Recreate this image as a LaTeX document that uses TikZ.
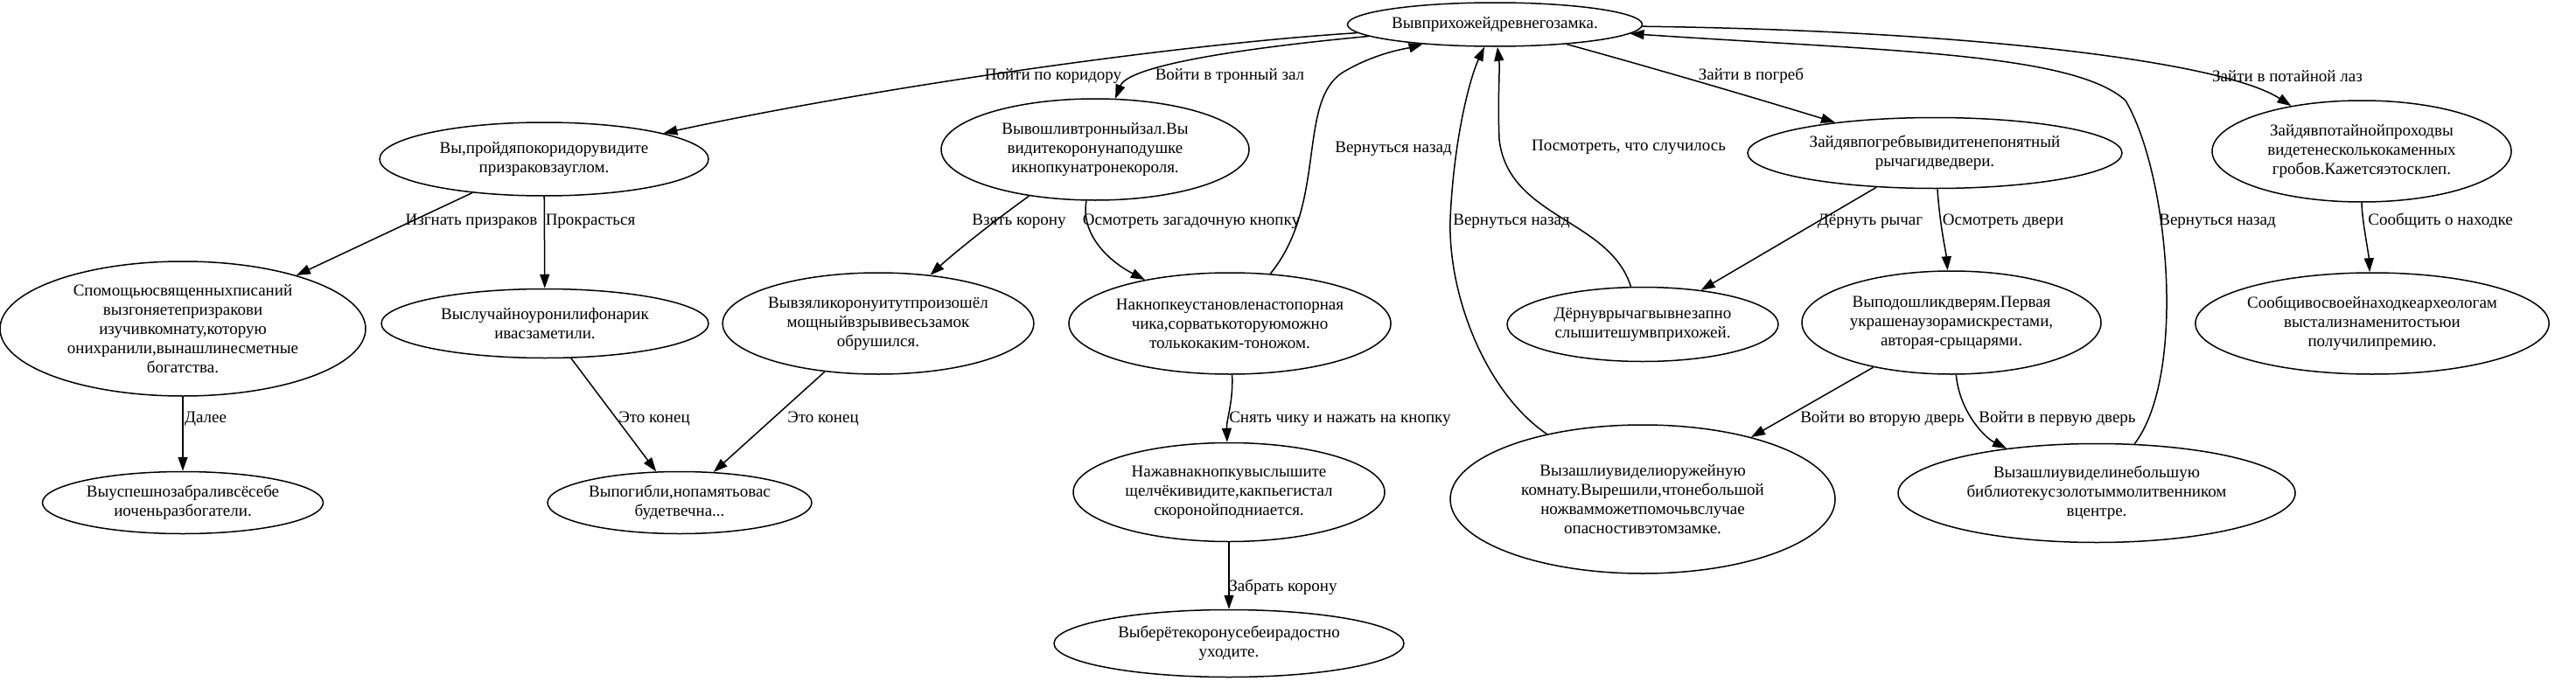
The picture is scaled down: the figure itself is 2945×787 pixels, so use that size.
\documentclass[tikz,border=0pt]{standalone}
\usepackage{fontspec}
\setmainfont{Liberation Serif}
\usetikzlibrary{shapes.geometric,arrows.meta}
\tikzset{
  st/.style={ellipse, draw, line width=1.5pt, inner sep=0pt, align=center, font=\fontsize{19}{22}\selectfont},
  lab/.style={inner sep=0pt, font=\fontsize{19}{20}\selectfont},
  arr/.style={line width=1.5pt, -{Triangle[length=16pt,width=11pt]}},
}
\begin{document}
\begin{tikzpicture}[x=1pt,y=-1pt]
\useasboundingbox (0,0) rectangle (2945,787);
% nodes
\node[st, minimum width=337pt, minimum height=50pt]  (n1)  at (1709,28)  {Вывприхожейдревнегозамка.};
\node[st, minimum width=376pt, minimum height=84pt]  (n2)  at (622,182)  {Вы,пройдяпокоридорувидите\\призраковзауглом.};
\node[st, minimum width=352pt, minimum height=116pt] (n3)  at (1252,171) {Вывошливтронныйзал.Вы\\видитекоронунаподушке\\икнопкунатронекороля.};
\node[st, minimum width=428pt, minimum height=81pt]  (n4)  at (2212,175) {Зайдявпогребвывидитенепонятный\\рычагидведвери.};
\node[st, minimum width=342pt, minimum height=116pt] (n5)  at (2700,173) {Зайдявпотайнойпроходвы\\видетенесколькокаменных\\гробов.Кажетсяэтосклеп.};
\node[st, minimum width=418pt, minimum height=154pt] (n6)  at (209,376)  {Спомощьюсвященныхписаний\\вызгоняетепризракови\\изучивкомнату,которую\\онихранили,вынашлинесметные\\богатства.};
\node[st, minimum width=374pt, minimum height=79pt]  (n7)  at (623,370)  {Выслучайноуронилифонарик\\ивасзаметили.};
\node[st, minimum width=340pt, minimum height=116pt] (n8)  at (1004,370) {Вывзяликоронуитутпроизошёл\\мощныйвзрывивесьзамок\\обрушился.};
\node[st, minimum width=344pt, minimum height=116pt] (n9)  at (1406,370) {Накнопкеустановленастопорная\\чика,сорватькоторуюможно\\толькокаким-тоножом.};
\node[st, minimum width=310pt, minimum height=85pt]  (n10) at (1878,371) {Дёрнуврычагвывнезапно\\слышитешумвприхожей.};
\node[st, minimum width=342pt, minimum height=118pt] (n11) at (2231,369) {Выподошликдверям.Первая\\украшенаузорамискрестами,\\авторая-срыцарями.};
\node[st, minimum width=402pt, minimum height=116pt] (n12) at (2712,370) {Сообщивосвоейнаходкеархеологам\\выстализнаменитостьюи\\получилипремию.};
\node[st, minimum width=321pt, minimum height=71pt]  (n13) at (209,575)  {Выуспешнозабраливсёсебе\\иоченьразбогатели.};
\node[st, minimum width=302pt, minimum height=71pt]  (n14) at (777,575)  {Выпогибли,нопамятьовас\\будетвечна...};
\node[st, minimum width=356pt, minimum height=113pt] (n15) at (1405,563) {Нажавнакнопкувыслышите\\щелчёкивидите,какпьегистал\\скоронойподниается.};
\node[st, minimum width=440pt, minimum height=170pt] (n16) at (1878,571) {Вызашлиувиделиоружейную\\комнату.Вырешили,чтонебольшой\\ножвамможетпомочьвслучае\\опасностивэтомзамке.};
\node[st, minimum width=454pt, minimum height=113pt] (n17) at (2397,564) {Вызашлиувиделинебольшую\\библиотекусзолотыммолитвенником\\вцентре.};
\node[st, minimum width=400pt, minimum height=77pt]  (n18) at (1405,736) {Выберётекоронусебеирадостно\\уходите.};
% edges
\draw[arr] (n1) .. controls (1350,50) and (1000,100) .. (n2);
\draw[arr] (n1) .. controls (1420,55) and (1290,75) .. (n3);
\draw[arr] (n1) .. controls (1880,75) and (2000,110) .. (n4);
\draw[arr] (n1) .. controls (2250,35) and (2540,70) .. (n5);
\draw[arr] (n2) -- (n6);
\draw[arr] (n2) -- (n7);
\draw[arr] (n3) .. controls (1140,250) and (1090,290) .. (n8);
\draw[arr] (n3) .. controls (1235,270) and (1270,300) .. (n9);
\draw[arr] (n9) .. controls (1520,230) and (1480,110) .. (1540,80) .. controls (1575,60) and (1610,55) .. (n1);
\draw[arr] (n10) .. controls (1840,250) and (1725,250) .. (1714,160) .. controls (1712,110) and (1715,80) .. (n1);
\draw[arr] (n16) .. controls (1700,450) and (1655,340) .. (1658,250) .. controls (1662,160) and (1680,90) .. (n1);
\draw[arr] (n17) .. controls (2500,430) and (2480,200) .. (2430,115) .. controls (2370,60) and (2150,58) .. (n1);
\draw[arr] (n4) -- (n10);
\draw[arr] (n4) .. controls (2218,260) and (2225,290) .. (n11);
\draw[arr] (n5) .. controls (2700,250) and (2708,290) .. (n12);
\draw[arr] (n6) -- (n13);
\draw[arr] (n7) -- (n14);
\draw[arr] (n8) -- (n14);
\draw[arr] (n9) .. controls (1410,460) and (1402,480) .. (n15);
\draw[arr] (n15) -- (n18);
\draw[arr] (n11) -- (n16);
\draw[arr] (n11) .. controls (2240,470) and (2268,500) .. (n17);
% labels
\node[lab] (l1)  at (1204,87)  {Пойти по коридору};
\node[lab] (l2)  at (1406,87)  {Войти в тронный зал};
\node[lab] (l3)  at (2002,87)  {Зайти в погреб};
\node[lab] (l4)  at (2615,87)  {Зайти в потайной лаз};
\node[lab] (l5)  at (1593,170) {Вернуться назад};
\node[lab] (l6)  at (1862,168) {Посмотреть, что случилось};
\node[lab] (l7)  at (539,253)  {Изгнать призраков};
\node[lab] (l8)  at (675,253)  {Прокрасться};
\node[lab] (l9)  at (1165,253) {Взять корону};
\node[lab] (l10) at (1362,253) {Осмотреть загадочную кнопку};
\node[lab] (l11) at (1728,253) {Вернуться назад};
\node[lab] (l12) at (2138,253) {Дёрнуть рычаг};
\node[lab] (l13) at (2290,253) {Осмотреть двери};
\node[lab] (l14) at (2535,253) {Вернуться назад};
\node[lab] (l15) at (2790,253) {Сообщить о находке};
\node[lab] (l16) at (235,479)  {Далее};
\node[lab] (l17) at (748,479)  {Это конец};
\node[lab] (l18) at (941,479)  {Это конец};
\node[lab] (l19) at (1532,479) {Снять чику и нажать на кнопку};
\node[lab] (l20) at (2152,479) {Войти во вторую дверь};
\node[lab] (l21) at (2352,479) {Войти в первую дверь};
\node[lab] (l22) at (1467,672) {Забрать корону};
\end{tikzpicture}
\end{document}
